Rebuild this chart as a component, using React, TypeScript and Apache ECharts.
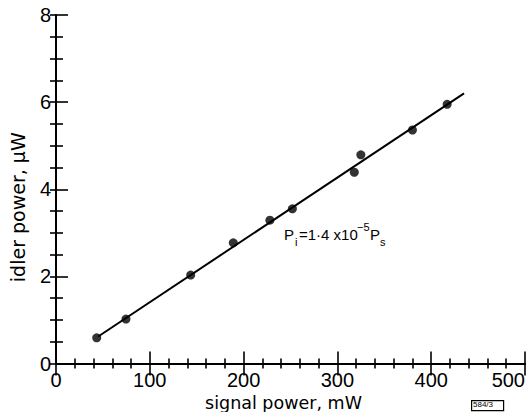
import React, { useEffect, useRef } from "react";
import * as echarts from "echarts";

const signalPower = [43.4, 74.6, 143.6, 189, 228, 252, 318, 325, 380, 417];
const idlerPower = [0.59, 1.02, 2.03, 2.77, 3.29, 3.55, 4.39, 4.79, 5.36, 5.95];
const fitX = [45, 435];
const fitY = [0.62, 6.2];
const xTicks = [0, 100, 200, 300, 400, 500];
const yTicks = [0, 2, 4, 6, 8];

const TICK_FONT = "Liberation Sans";
const NAME_FONT = "DejaVu Sans";
const ANNO_FONT = `"Liberation Sans"`;

export default function App() {
  const ref = useRef<HTMLDivElement>(null);
  useEffect(() => {
    const chart = echarts.init(ref.current!, undefined, { renderer: "svg" });
    const axisLine = { show: true, lineStyle: { color: "#000", width: 2 } };
    const tickStyle = { color: "#000", width: 1.6 };
    chart.setOption({
      animation: false,
      backgroundColor: "#fff",
      grid: { left: 56, right: 7, top: 15, bottom: 48.5, containLabel: false, outerBoundsMode: "none" },
      xAxis: [
        {
          type: "value",
          min: xTicks[0],
          max: xTicks[xTicks.length - 1],
          interval: 100,
          position: "bottom",
          name: "signal power, mW",
          nameLocation: "middle",
          nameGap: 23,
          nameTextStyle: { color: "#000", fontFamily: NAME_FONT, fontSize: 17.5, padding: [0, 14, 0, 0] },
          axisLine,
          axisTick: { inside: true, length: 12, lineStyle: tickStyle },
          minorTick: { show: true, splitNumber: 5, length: 5, lineStyle: tickStyle },
          axisLabel: { color: "#000", fontFamily: TICK_FONT, fontSize: 20, margin: 6, alignMaxLabel: "right" },
          splitLine: { show: false },
        },
        {
          type: "value",
          min: 0,
          max: 500,
          interval: 100,
          position: "top",
          axisLine,
          axisTick: { inside: true, length: 12, lineStyle: tickStyle },
          minorTick: { show: true, splitNumber: 5, length: 5, lineStyle: tickStyle },
          axisLabel: { show: false },
          splitLine: { show: false },
        },
      ],
      yAxis: [
        {
          type: "value",
          min: yTicks[0],
          max: yTicks[yTicks.length - 1],
          interval: 2,
          position: "left",
          name: "idler power, µW",
          nameLocation: "middle",
          nameGap: 29,
          nameTextStyle: { color: "#000", fontFamily: NAME_FONT, fontSize: 19, padding: [0, 36, 0, 0] },
          axisLine,
          axisTick: { inside: true, length: 12, lineStyle: tickStyle },
          minorTick: { show: true, splitNumber: 4, length: 7, lineStyle: tickStyle },
          axisLabel: { color: "#000", fontFamily: TICK_FONT, fontSize: 20, margin: 5 },
          splitLine: { show: false },
        },
        {
          type: "value",
          min: 0,
          max: 8,
          interval: 2,
          position: "right",
          axisLine,
          axisTick: { inside: true, length: 6, lineStyle: tickStyle },
          minorTick: { show: true, splitNumber: 4, length: 6, lineStyle: tickStyle },
          axisLabel: { show: false },
          splitLine: { show: false },
        },
      ],
      series: [
        {
          type: "line",
          data: fitX.map((x, i) => [x, fitY[i]]),
          showSymbol: false,
          symbol: "none",
          lineStyle: { color: "#000", width: 2 },
          z: 2,
        },
        {
          type: "scatter",
          data: signalPower.map((x, i) => [x, idlerPower[i]]),
          symbol: "circle",
          symbolSize: 9,
          itemStyle: { color: "#000" },
          z: 3,
        },
      ],
      graphic: [
        { type: "text", left: 284, top: 227, style: { text: "P", font: `15px ${ANNO_FONT}`, fill: "#000" } },
        { type: "text", left: 295, top: 236, style: { text: "i", font: `11px ${ANNO_FONT}`, fill: "#000" } },
        { type: "text", left: 299, top: 227, style: { text: "=1·4 x10", font: `15px ${ANNO_FONT}`, fill: "#000" } },
        { type: "text", left: 357, top: 221, style: { text: "−5", font: `11px ${ANNO_FONT}`, fill: "#000" } },
        { type: "text", left: 370, top: 227, style: { text: "P", font: `15px ${ANNO_FONT}`, fill: "#000" } },
        { type: "text", left: 380, top: 236, style: { text: "s", font: `11px ${ANNO_FONT}`, fill: "#000" } },
        {
          type: "rect",
          left: 471,
          top: 400,
          shape: { width: 32, height: 10 },
          style: { fill: "#fff", stroke: "#000", lineWidth: 1.2 },
        },
        { type: "text", left: 473, top: 400.5, style: { text: "584/3", font: `8px ${ANNO_FONT}`, fill: "#000" } },
      ],
    });
    return () => chart.dispose();
  }, []);
  return <div ref={ref} style={{ width: 532, height: 412, position: "absolute", left: 0, top: 0 }} />;
}
